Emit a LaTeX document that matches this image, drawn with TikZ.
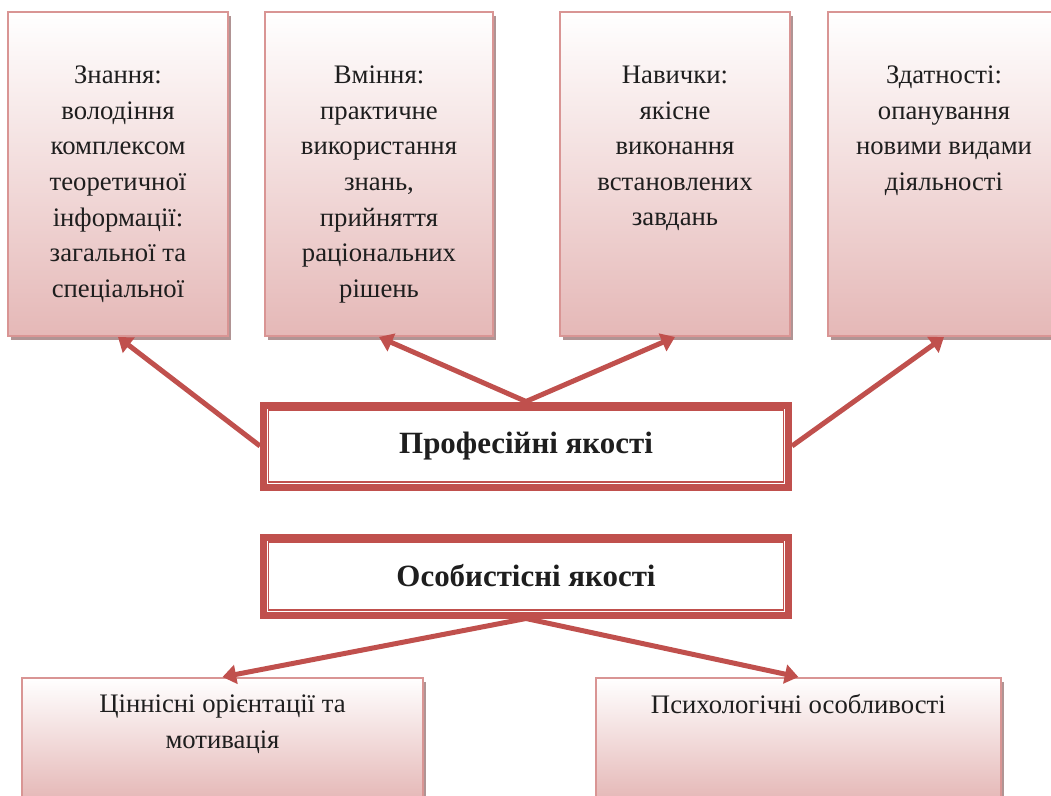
\documentclass[tikz,border=0pt]{standalone}
\usepackage{fontspec}
\setmainfont{Liberation Serif}
\usetikzlibrary{arrows.meta, positioning, shadows}
\definecolor{redline}{HTML}{C0504D}
\definecolor{pinkedge}{HTML}{D99594}
\definecolor{pinkfill}{HTML}{E5B8B7}
\definecolor{shadowgray}{HTML}{B09494}
\definecolor{inkgray}{HTML}{1E1E1E}

\begin{document}
\begin{tikzpicture}[
      >={Triangle[length=0.34cm, width=0.47cm]},
      card/.style={
        rectangle, draw=pinkedge, line width=0.05cm,
        top color=white, bottom color=pinkfill,
        drop shadow={shadow xshift=0.07cm, shadow yshift=-0.1cm,
          fill=shadowgray, opacity=1}
      },
      cardtext/.style={
        align=center, inner sep=0pt, text=inkgray,
        font=\fontsize{19}{25.3}\selectfont
      },
      frame/.style={
        rectangle, draw=redline, line width=0.175cm, fill=white,
        minimum width=13.125cm, text=inkgray,
        font=\fontsize{22}{26}\selectfont\bfseries
      },
      link/.style={->, draw=redline, line width=0.125cm}
    ]
    \useasboundingbox (0,0) rectangle (26.275,-19.9);

    % upper row
    \node[card, minimum width=5.5cm,  minimum height=8.1cm] (know)  at (2.95,-4.35)  {};
    \node[card, minimum width=5.7cm,  minimum height=8.1cm] (skill) at (9.475,-4.35) {};
    \node[card, minimum width=5.75cm, minimum height=8.1cm] (habit) at (16.875,-4.35) {};
    \node[card, minimum width=5.8cm,  minimum height=8.1cm] (abil)  at (23.6,-4.35)  {};

    \node[cardtext, below=1.37cm of know.north]  (knowt)
      {Знання:\\володіння\\комплексом\\теоретичної\\інформації:\\загальної та\\спеціальної};
    \node[cardtext, below=1.37cm of skill.north] (skillt)
      {Вміння:\\практичне\\використання\\знань,\\прийняття\\раціональних\\рішень};
    \node[cardtext, below=1.37cm of habit.north] (habitt)
      {Навички:\\якісне\\виконання\\встановлених\\завдань};
    \node[cardtext, below=1.37cm of abil.north]  (abilt)
      {Здатності:\\опанування\\новими видами\\діяльності};

    % centre
    \node[frame, minimum height=2.05cm] (prof) at (13.15,-11.15) {Професійні якості};
    \node[frame, minimum height=1.95cm] (pers) at (13.15,-14.4) {Особистісні якості};
    \draw[redline, line width=0.04cm]
      ([shift={(0.21,-0.21)}]prof.north west) rectangle ([shift={(-0.21,0.21)}]prof.south east);
    \draw[redline, line width=0.04cm]
      ([shift={(0.21,-0.21)}]pers.north west) rectangle ([shift={(-0.21,0.21)}]pers.south east);

    % lower row
    \node[card, minimum width=10.025cm, minimum height=3.05cm] (value) at (5.5625,-18.475) {};
    \node[card, minimum width=10.125cm, minimum height=3.05cm] (psych) at (19.96,-18.475) {};
    \node[cardtext, font=\fontsize{19}{26}\selectfont, below=0.43cm of value.north] (valuet)
      {Ціннісні орієнтації та\\мотивація};
    \node[cardtext, below=0.43cm of psych.north] (psycht)
      {Психологічні особливості};

    \draw[link] (prof.west)  -- (know.south);
    \draw[link] (prof.north) -- (skill.south);
    \draw[link] (prof.north) -- (habit.south);
    \draw[link] (prof.east)  -- (abil.south);

    \draw[link] (pers.south) -- (value.north);
    \draw[link] (pers.south) -- (psych.north);
  \end{tikzpicture}
\end{document}
